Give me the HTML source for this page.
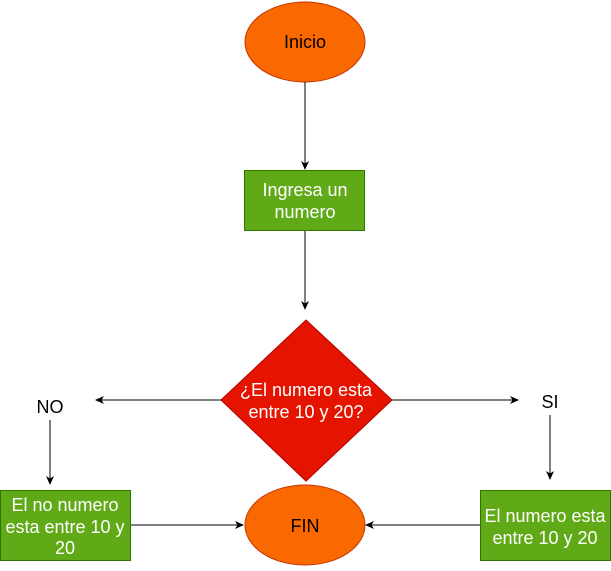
<!DOCTYPE html>
<html><head><style>
body{margin:0;background:#fff;}
svg text{font-family:"Liberation Sans",sans-serif;font-size:18px;}
</style></head><body>
<svg width="611" height="566" viewBox="0 0 611 566" xmlns="http://www.w3.org/2000/svg">
<defs><marker id="a" markerWidth="10" markerHeight="10" refX="8" refY="5" orient="auto" markerUnits="userSpaceOnUse"><path d="M0,1 L9,5 L0,9 L2.5,5 Z" fill="#000"/></marker></defs>
<ellipse cx="305" cy="42" rx="60" ry="40" fill="#fa6800" stroke="#c73500"/>
<text x="305" y="48" text-anchor="middle" fill="#000">Inicio</text>
<line x1="305" y1="82" x2="305" y2="169" stroke="#000" marker-end="url(#a)"/>
<rect x="244.5" y="170.5" width="120" height="60" fill="#60a917" stroke="#2d7600"/>
<text x="305" y="196" text-anchor="middle" fill="#fff">Ingresa un</text>
<text x="305" y="218" text-anchor="middle" fill="#fff">numero</text>
<line x1="305" y1="231" x2="305" y2="309" stroke="#000" marker-end="url(#a)"/>
<polygon points="306,320 392,400 306,481 221,400" fill="#e51400" stroke="#b20000"/>
<text x="306" y="396" text-anchor="middle" fill="#fff">¿El numero esta</text>
<text x="306" y="418" text-anchor="middle" fill="#fff">entre 10 y 20?</text>
<line x1="221" y1="400" x2="96" y2="400" stroke="#000" marker-end="url(#a)"/>
<text x="50" y="413" text-anchor="middle" fill="#000">NO</text>
<line x1="392" y1="400" x2="518" y2="400" stroke="#000" marker-end="url(#a)"/>
<text x="550" y="408" text-anchor="middle" fill="#000">SI</text>
<line x1="50" y1="420" x2="50" y2="484" stroke="#000" marker-end="url(#a)"/>
<line x1="550" y1="415" x2="550" y2="479" stroke="#000" marker-end="url(#a)"/>
<rect x="0.5" y="490.5" width="130" height="70" fill="#60a917" stroke="#2d7600"/>
<text x="65" y="511" text-anchor="middle" fill="#fff">El no numero</text>
<text x="65" y="533" text-anchor="middle" fill="#fff">esta entre 10 y</text>
<text x="65" y="554" text-anchor="middle" fill="#fff">20</text>
<rect x="480.5" y="490.5" width="130" height="70" fill="#60a917" stroke="#2d7600"/>
<text x="545" y="522" text-anchor="middle" fill="#fff">El numero esta</text>
<text x="545" y="544" text-anchor="middle" fill="#fff">entre 10 y 20</text>
<ellipse cx="305" cy="525" rx="60" ry="40" fill="#fa6800" stroke="#c73500"/>
<text x="305" y="532" text-anchor="middle" fill="#000">FIN</text>
<line x1="131" y1="525" x2="243" y2="525" stroke="#000" marker-end="url(#a)"/>
<line x1="480" y1="525" x2="366" y2="525" stroke="#000" marker-end="url(#a)"/>
</svg>
</body></html>
